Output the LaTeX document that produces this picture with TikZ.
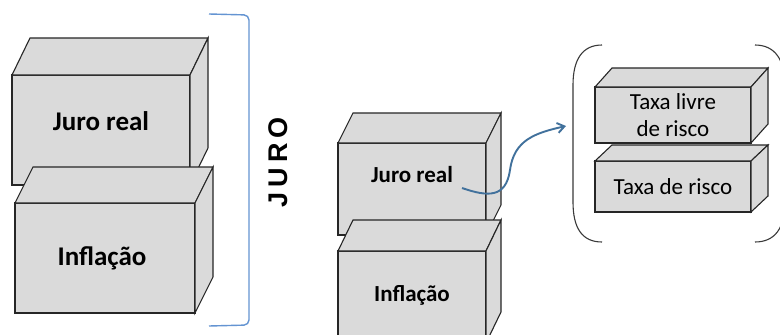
\documentclass[tikz,border=0pt]{standalone}
\usepackage{fontspec}
\setmainfont{Carlito}
\newfontfamily\jurofont{Liberation Sans}
\usetikzlibrary{arrows.meta,calc}
\definecolor{facegray}{HTML}{DADADA}
\definecolor{edgegray}{HTML}{262626}
\definecolor{bracketblue}{HTML}{6494D2}
\definecolor{arrowblue}{HTML}{41719C}
\definecolor{parengray}{HTML}{3A3A3A}
\tikzset{
  face/.style={draw=edgegray, fill=facegray, line width=1.1pt, outer sep=0pt, inner sep=0pt, align=center},
  sideface/.style={draw=edgegray, fill=facegray, line width=1.1pt, line join=miter},
  bigtxt/.style={font=\bfseries\fontsize{27}{30}\selectfont},
  midtxt/.style={font=\bfseries\fontsize{23}{26}\selectfont},
  smalltxt/.style={font=\fontsize{23}{27}\selectfont},
}
% #1 name, #2 cx, #3 cy, #4 w, #5 h, #6 dx, #7 dy, #8 text options, #9 text
\newcommand\mybox[9]{%
  \node[face, minimum width=#4pt, minimum height=#5pt] (#1) at (#2,#3) {};
  \draw[sideface] (#1.north west) -- ++(#6pt,#7pt) -- ++(#4pt,0pt) -- (#1.north east) -- cycle;
  \draw[sideface] (#1.north east) -- ++(#6pt,#7pt) -- ++(0pt,-#5pt) -- (#1.south east) -- cycle;
  \node[#8] (#1t) at (#1) {#9};
}
\begin{document}
\begin{tikzpicture}[x=1pt,y=-1pt]
\useasboundingbox (0,0) rectangle (780,335);
\clip (0,0) rectangle (780,335);
\fill[white] (0,0) rectangle (780,335);

% left stack
\mybox{b1}{101}{130}{178}{110}{18}{37}{bigtxt, yshift=9pt}{Juro real}
\mybox{b2}{105}{258}{180}{110}{18}{36}{bigtxt, xshift=-3pt}{Inflação}

% blue bracket
\coordinate (brT) at (209,14);
\coordinate (brB) at (209,326);
\draw[bracketblue, line width=1.4pt, rounded corners=5pt] (brT) -- (249,15) -- (249,325) -- (brB);
\node[rotate=90, font=\jurofont\bfseries\fontsize{27}{30}\selectfont] (juro) at (278,162) {J\hspace{5pt}U\hspace{5pt}R\hspace{5pt}O};

% middle stack
\mybox{b3}{412}{189}{148}{92}{15}{30}{midtxt, yshift=14pt}{Juro real}
\mybox{b4}{412}{297}{148}{92}{15}{31}{midtxt, yshift=2pt}{Inflação}

% curved arrow
\coordinate (arrS) at (462,188);
\coordinate (arrE) at (566,126);
\draw[arrowblue, line width=1.9pt, -{Straight Barb[length=7pt,width=10pt]}]
  (arrS) .. controls (488,197) and (506,198) .. (510,170)
  .. controls (514,140) and (535,133) .. (arrE);

% parentheses
\coordinate (lpT) at (602,45);
\coordinate (lpB) at (602,242);
\draw[parengray, line width=1.1pt] (lpT) .. controls (582,45) and (573,60) .. (573,85) -- (573,202) .. controls (573,228) and (582,242) .. (lpB);
\coordinate (rpT) at (755,45);
\coordinate (rpB) at (755,242);
\draw[parengray, line width=1.1pt] (rpT) .. controls (775,45) and (785,60) .. (785,85) -- (785,202) .. controls (785,228) and (775,242) .. (rpB);

% right stack
\mybox{b5}{673}{115}{156}{56}{17}{19}{smalltxt, align=center}{Taxa livre\\de risco}
\mybox{b6}{673}{186.5}{156}{51}{17}{16}{smalltxt}{Taxa de risco}
\end{tikzpicture}
\end{document}
